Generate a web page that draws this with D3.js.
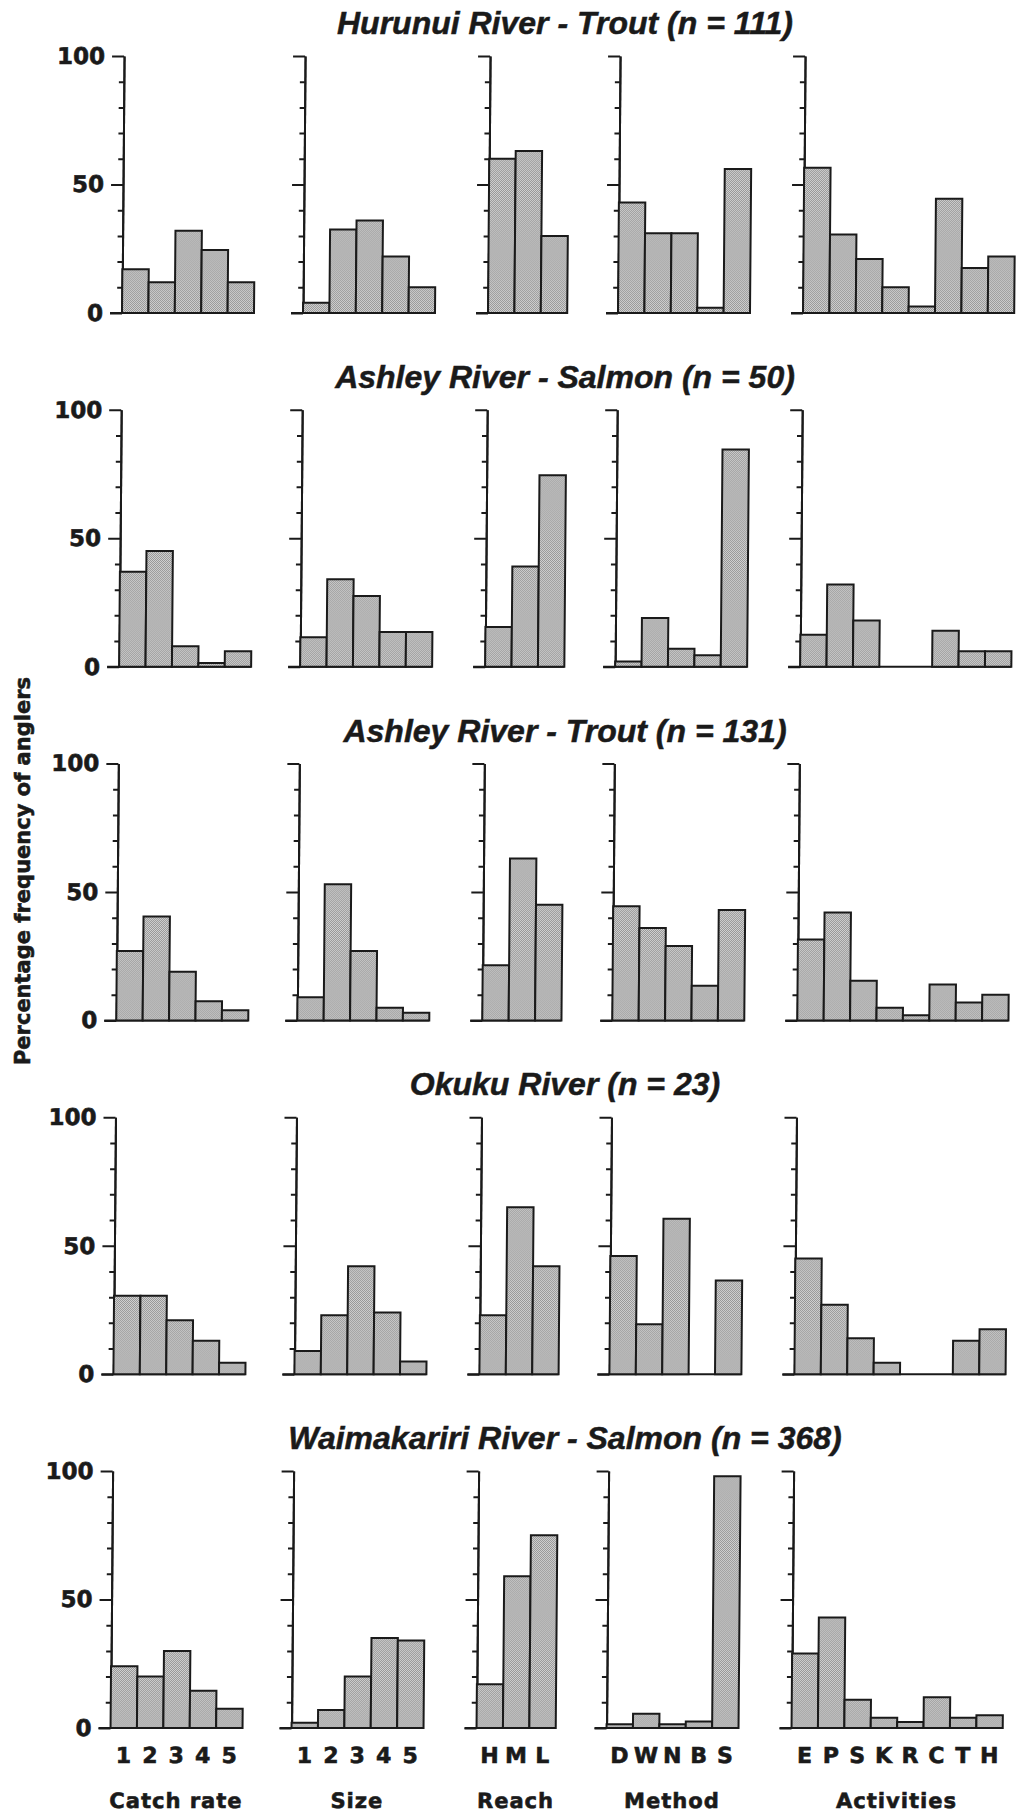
<!DOCTYPE html>
<html>
<head>
<meta charset="utf-8">
<script src="https://cdn.jsdelivr.net/npm/d3@7/dist/d3.min.js"></script>
<style>
  html, body { margin: 0; padding: 0; background: #fff; }
  svg { display: block; }
</style>
</head>
<body>
<div id="chart"></div>
<script>
// ---- data -----------------------------------------------------------------
const riverTitles = [
  "Hurunui River - Trout (n = 111)",
  "Ashley River - Salmon (n = 50)",
  "Ashley River - Trout (n = 131)",
  "Okuku River (n = 23)",
  "Waimakariri River - Salmon (n = 368)"
];

const facetTitles = ["Catch rate", "Size", "Reach", "Method", "Activities"];

const catchRateLabels = ["1", "2", "3", "4", "5"];
const sizeLabels      = ["1", "2", "3", "4", "5"];
const reachLabels     = ["H", "M", "L"];
const methodLabels    = ["D", "W", "N", "B", "S"];
const activityLabels  = ["E", "P", "S", "K", "R", "C", "T", "H"];

// percentage of anglers, one row per river (same order as riverTitles)
const catchRate = [
  [17, 12, 32, 24.5, 12],
  [37, 45, 8, 1.5, 6],
  [27, 40.5, 19, 7.5, 4],
  [30.5, 30.5, 21, 13, 4.5],
  [24, 20, 30, 14.5, 7.5]
];
const size = [
  [4, 32.5, 36, 22, 10],
  [11.5, 34, 27.5, 13.5, 13.5],
  [9, 53, 27, 5, 3],
  [9, 23, 42, 24, 5],
  [2, 7, 20, 35, 34]
];
const reach = [
  [60, 63, 30],
  [15.5, 39, 74.5],
  [21.5, 63, 45],
  [23, 65, 42],
  [17, 59, 75]
];
const method = [
  [43, 31, 31, 2, 56],
  [2, 19, 7, 4.5, 84.5],
  [44.5, 36, 29, 13.5, 43],
  [46, 19.5, 60.5, 0, 36.5],
  [1.5, 5.5, 1.5, 2.5, 98]
];
const activities = [
  [56.5, 30.5, 21, 10, 2.5, 44.5, 17.5, 22],
  [12.5, 32, 18, 0, 0, 14, 6, 6],
  [31.5, 42, 15.5, 5, 2, 14, 7, 10],
  [45, 27, 14, 4.5, 0, 0, 13, 17.5],
  [29, 43, 11, 4, 2.3, 12, 4, 5]
];

const yTicksMajor = [0, 50, 100];
const yTicksMinor = [10, 20, 30, 40, 60, 70, 80, 90];

// ---- layout ---------------------------------------------------------------
const W = 1017, H = 1813;
const firstBaseline = 313, rowStep = 353.75, plotH = 257;
const panelX = [122, 303, 488, 618, 803];
const bandW = 26.4;
const ink = "#1a1a1a";
const numFont = "'DejaVu Sans', sans-serif";
const titleFont = "'Liberation Sans', Arial, sans-serif";

const facets = [
  { labels: catchRateLabels, values: catchRate },
  { labels: sizeLabels,      values: size },
  { labels: reachLabels,     values: reach },
  { labels: methodLabels,    values: method },
  { labels: activityLabels,  values: activities }
];

// heavy sans lettering used for all numbers and axis names
function heavy(sel, px) {
  sel.attr("font-family", numFont)
    .attr("font-weight", "bold")
    .attr("font-size", px)
    .attr("fill", ink)
    .attr("stroke", ink)
    .attr("stroke-width", 0.6)
    .attr("paint-order", "stroke");
}

const svg = d3.select("#chart").append("svg")
  .attr("width", W).attr("height", H)
  .attr("viewBox", `0 0 ${W} ${H}`);

// halftone-style stipple used to fill the bars
const defs = svg.append("defs");
const pat = defs.append("pattern")
  .attr("id", "stipple")
  .attr("patternUnits", "userSpaceOnUse")
  .attr("width", 2).attr("height", 2);
pat.append("rect").attr("width", 2).attr("height", 2).attr("fill", "#dadada");
pat.append("rect").attr("x", 0).attr("y", 0).attr("width", 1).attr("height", 1).attr("fill", "#8e8e8e");
pat.append("rect").attr("x", 1).attr("y", 1).attr("width", 1).attr("height", 1).attr("fill", "#8e8e8e");

// the whole plate of panels leans slightly to the left towards the bottom
const lean = -0.0081;
const plate = svg.append("g")
  .attr("transform", `translate(${-lean * firstBaseline},0) skewX(${Math.atan(lean) * 180 / Math.PI})`);

riverTitles.forEach((title, r) => {
  const base = firstBaseline + r * rowStep;
  const y = d3.scaleLinear().domain([0, 100]).range([base, base - plotH]);

  // river heading
  svg.append("text")
    .attr("x", 565)
    .attr("y", base - plotH - 22)
    .attr("text-anchor", "middle")
    .attr("font-family", titleFont)
    .attr("font-weight", "bold")
    .attr("font-style", "italic")
    .attr("font-size", 32)
    .attr("fill", ink)
    .attr("stroke", ink)
    .attr("stroke-width", 0.5)
    .text(title);

  facets.forEach((f, c) => {
    const x = d3.scaleBand()
      .domain(f.labels.map((d, i) => i))
      .range([panelX[c], panelX[c] + f.labels.length * bandW])
      .padding(0);

    const g = plate.append("g");

    // minor ticks every 10%
    const minor = g.append("g")
      .attr("transform", `translate(${panelX[c]},0)`)
      .call(d3.axisLeft(y).tickValues(yTicksMinor).tickSizeInner(5).tickSizeOuter(0).tickFormat(""));
    // major ticks at 0, 50, 100 (numbered on the first panel only)
    const major = g.append("g")
      .attr("transform", `translate(${panelX[c]},0)`)
      .call(d3.axisLeft(y).tickValues(yTicksMajor).tickSizeInner(12).tickSizeOuter(0).tickPadding(7)
        .tickFormat(c === 0 ? d3.format("d") : () => ""));

    [minor, major].forEach(ax => {
      ax.selectAll("path.domain").attr("stroke", ink).attr("stroke-width", 2);
      ax.selectAll(".tick line").attr("stroke", ink).attr("stroke-width", 2);
    });
    major.selectAll(".tick text").call(heavy, 23);

    // base line running under the bars
    g.append("line")
      .attr("x1", panelX[c] - 12)
      .attr("x2", x.range()[1])
      .attr("y1", y(0)).attr("y2", y(0))
      .attr("stroke", ink).attr("stroke-width", 2);

    // bars
    g.selectAll("rect.bar")
      .data(f.values[r])
      .join("rect")
      .attr("class", "bar")
      .attr("x", (d, i) => x(i))
      .attr("width", x.bandwidth())
      .attr("y", d => y(d))
      .attr("height", d => y(0) - y(d))
      .attr("fill", "url(#stipple)")
      .attr("stroke", ink)
      .attr("stroke-width", 2);

    // category letters and facet names under the last row
    if (r === riverTitles.length - 1) {
      g.selectAll("text.cat")
        .data(f.labels)
        .join("text")
        .attr("class", "cat")
        .attr("x", (d, i) => x(i) + x.bandwidth() / 2)
        .attr("y", base + 35)
        .attr("text-anchor", "middle")
        .call(heavy, 22)
        .text(d => d);

      g.append("text")
        .attr("x", (x.range()[0] + x.range()[1]) / 2)
        .attr("y", base + 80)
        .attr("text-anchor", "middle")
        .call(heavy, 21)
        .attr("letter-spacing", 1)
        .text(facetTitles[c]);
    }
  });
});

// vertical axis title
svg.append("text")
  .attr("transform", "translate(30,871) rotate(-90)")
  .attr("text-anchor", "middle")
  .call(heavy, 21)
  .text("Percentage frequency of anglers");
</script>
</body>
</html>
